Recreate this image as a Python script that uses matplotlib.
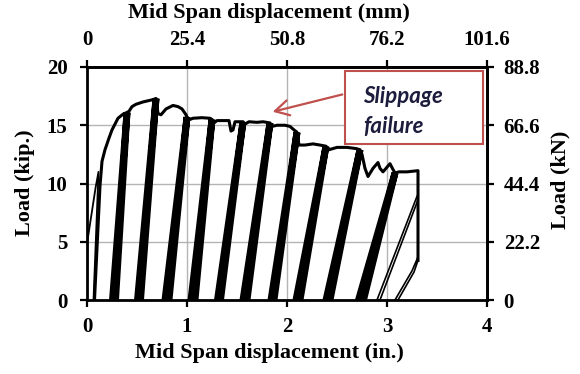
import matplotlib.pyplot as plt
from matplotlib.patches import Rectangle

plt.rcParams["font.family"] = ["Liberation Serif", "DejaVu Serif"]
plt.rcParams["font.weight"] = "bold"

# first small cycles (displacement in., load kip)
start_x = [0.0, 0.003, 0.085, 0.115, 0.065]
start_p = [0.0, 5.0, 9.6, 11.0, 0.0]

# envelope followed on every reloading, from first reload to the final drop
env_x = [0.075, 0.13, 0.15, 0.18, 0.22, 0.25, 0.31, 0.36, 0.40,
         0.42, 0.45, 0.49, 0.56, 0.66, 0.69,
         0.71, 0.74, 0.79, 0.86, 0.91, 0.95, 0.99, 1.00,
         1.03, 1.06, 1.15, 1.23, 1.25,
         1.27, 1.30, 1.42, 1.44, 1.46, 1.48, 1.54, 1.56,
         1.58, 1.62, 1.70, 1.76, 1.83,
         1.85, 1.90, 1.98, 2.03, 2.07, 2.10,
         2.12, 2.18, 2.26, 2.33, 2.39,
         2.42, 2.50, 2.60, 2.69, 2.73,
         2.75, 2.78, 2.81, 2.86, 2.91, 2.93, 2.96, 3.00, 3.03, 3.06, 3.08,
         3.12, 3.20, 3.31, 3.31]
env_p = [0.0, 9.8, 11.9, 12.9, 13.9, 14.6, 15.6, 15.95, 16.1,
         16.2, 16.6, 16.8, 17.0, 17.2, 17.3,
         16.0, 15.9, 16.4, 16.7, 16.6, 16.4, 15.9, 15.7,
         15.5, 15.6, 15.65, 15.6, 15.5,
         15.2, 15.4, 15.4, 14.5, 14.6, 15.3, 15.3, 15.3,
         15.1, 15.3, 15.25, 15.3, 15.2,
         14.9, 15.0, 15.0, 14.9, 14.6, 14.4,
         13.3, 13.3, 13.4, 13.3, 13.2,
         12.9, 13.1, 13.1, 13.0, 12.9,
         12.5, 11.3, 10.6, 11.3, 11.8, 11.3, 11.0, 11.4, 11.7, 11.2, 10.9,
         11.0, 11.0, 11.1, 3.4]

# unload/reload bands: peak of the cycle and residual displacement span at zero load
band_top_x = [0.40, 0.69, 1.00, 1.25, 1.56, 1.83, 2.10, 2.39, 2.73, 3.08]
band_top_p = [16.1, 17.3, 15.7, 15.5, 15.3, 15.2, 14.4, 13.2, 12.9, 10.9]
band_res_lo = [0.255, 0.505, 0.780, 1.040, 1.305, 1.560, 1.840, 2.090, 2.390, 2.715]
band_res_hi = [0.285, 0.535, 0.820, 1.080, 1.335, 1.600, 1.870, 2.130, 2.430, 2.765]

# last two cycles after the load drop
tail1_x = [3.30, 2.90, 2.93, 3.31]
tail1_p = [8.9, 0.0, 0.0, 8.6]
tail2_x = [3.31, 3.27, 3.11, 3.08, 3.25, 3.31]
tail2_p = [3.4, 2.4, 0.0, 0.0, 2.5, 3.7]

in_ticks = [0, 1, 2, 3, 4]
mm_ticks = [0, 25.4, 50.8, 76.2, 101.6]
mm_labels = ["0", "25.4", "50.8", "76.2", "101.6"]
kip_ticks = [0, 5, 10, 15, 20]
kn_ticks = [0, 22.2, 44.4, 66.6, 88.8]
kn_labels = ["0", "22.2", "44.4", "66.6", "88.8"]

red = "#c0504d"

fig = plt.figure(figsize=(5.8, 3.74), dpi=100)
ax = fig.add_axes([87 / 580, 74 / 374, 400 / 580, 233 / 374])

ax.plot(start_x, start_p, color="black", lw=1.3, zorder=3)
ax.plot(env_x, env_p, color="black", lw=2.2, solid_joinstyle="round", zorder=3)
for tx, tp, lo, hi in zip(band_top_x, band_top_p, band_res_lo, band_res_hi):
    ax.fill([tx, lo, hi, tx], [tp, 0, 0, tp], facecolor="black",
            edgecolor="black", lw=5.0, joinstyle="bevel", zorder=3)
ax.plot(tail1_x, tail1_p, color="black", lw=1.2, zorder=3)
ax.plot(tail2_x, tail2_p, color="black", lw=1.2, zorder=3)

ax.set_xlim(0, 4)
ax.set_ylim(0, 20)
ax.set_xticks(in_ticks)
ax.set_yticks(kip_ticks)
ax.grid(color="#b4b4b4", lw=1.0)
ax.set_axisbelow(True)
for s in ax.spines.values():
    s.set_linewidth(2.0)
ax.tick_params(direction="out", length=5, width=1.6, labelsize=15)
ax.tick_params(axis="x", pad=7)
ax.tick_params(axis="y", pad=9)

top = ax.secondary_xaxis("top", functions=(lambda x: x * 25.4, lambda x: x / 25.4))
top.set_xticks(mm_ticks, labels=mm_labels)
top.tick_params(direction="out", length=5, width=1.6, labelsize=15, pad=7)
top.spines["top"].set_linewidth(2.0)

right = ax.secondary_yaxis("right", functions=(lambda p: p * 4.44, lambda p: p / 4.44))
right.set_yticks(kn_ticks, labels=kn_labels)
right.tick_params(direction="out", length=5, width=1.6, labelsize=15, pad=7)
right.spines["right"].set_linewidth(2.0)

# axis titles
fig.text(0.464, 0.056, "Mid Span displacement (in.)", fontsize=16,
         fontweight="bold", ha="center", va="center")
fig.text(0.464, 0.966, "Mid Span displacement (mm)", fontsize=16,
         fontweight="bold", ha="center", va="center")
fig.text(0.043, 0.511, "Load (kip.)", fontsize=16, fontweight="bold",
         rotation=90, ha="center", va="center")
fig.text(0.966, 0.519, "Load (kN)", fontsize=16, fontweight="bold",
         rotation=90, ha="center", va="center")

# callout for the slip
ax.annotate("", xy=(1.83, 16.1), xytext=(2.58, 17.7),
            arrowprops=dict(arrowstyle="->,head_length=1.0,head_width=0.55",
                            color=red, lw=1.6), zorder=4)
ax.add_patch(Rectangle((2.58, 13.37), 1.375, 6.28, facecolor="white",
                       edgecolor=red, lw=1.5, zorder=5))
ax.text(2.76, 16.9, "Slippage", fontsize=16, fontstyle="italic",
        fontweight="bold", family=["Lato", "DejaVu Sans"], color="#1c1c3c",
        va="baseline", zorder=6)
ax.text(2.76, 14.3, "failure", fontsize=16, fontstyle="italic",
        fontweight="bold", family=["Lato", "DejaVu Sans"], color="#1c1c3c",
        va="baseline", zorder=6)

fig.savefig("out.png", dpi=100)
